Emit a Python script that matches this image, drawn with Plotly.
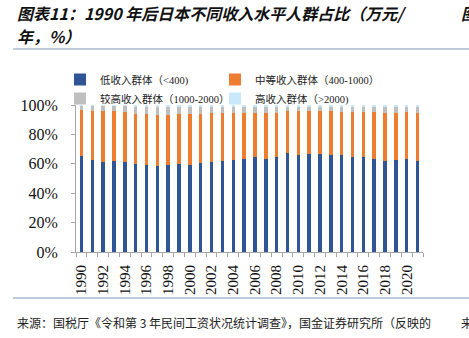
import plotly.graph_objects as go

years = list(range(1990, 2022))
low = [65.6, 62.9, 61.5, 62.2, 61.5, 60.0, 59.5, 58.4, 59.5, 60.0, 59.5, 60.6, 61.5, 62.2, 62.9, 63.3,
       64.3, 63.6, 64.9, 67.6, 66.3, 67.0, 67.0, 66.3, 65.8, 64.9, 64.9, 63.3, 62.2, 62.9, 63.3, 61.8]
mid = [31.0, 33.0, 34.4, 33.7, 34.0, 33.9, 34.4, 35.0, 33.9, 33.9, 34.4, 33.3, 33.3, 32.6, 31.9, 31.5,
       30.0, 30.7, 29.9, 28.6, 29.9, 29.2, 29.2, 29.6, 29.7, 30.6, 30.6, 32.2, 32.6, 31.9, 31.7, 33.0]
high = [0.6, 0.6, 0.6, 0.6, 0.6, 0.7, 0.7, 0.7, 0.7, 0.7, 0.7, 0.7, 0.7, 0.7, 0.7, 0.7,
        0.8, 0.8, 0.8, 0.8, 0.8, 0.8, 0.8, 0.8, 0.8, 0.8, 0.8, 0.8, 0.8, 0.8, 0.8, 0.8]
upper = [round(100 - a - b - c, 1) for a, b, c in zip(low, mid, high)]

names = ["低收入群体（<400)", "中等收入群体（400-1000）", "较高收入群体（1000-2000）", "高收入群体（>2000)"]
colors = ["#2F5597", "#ED7D31", "#BFBFBF", "#C9E8FA"]
series = [low, mid, upper, high]
legend_ids = ["legend", "legend2", "legend", "legend2"]

fig = go.Figure()
for n, c, s, lg in zip(names, colors, series, legend_ids):
    fig.add_trace(go.Bar(x=years, y=[v / 100 for v in s], name=n, legend=lg,
                         marker=dict(color=c, line=dict(width=0))))

W, H = 469, 338
L, R, T, B = 76, 46, 105, 86
pw, ph = W - L - R, H - T - B

def px_x(x):
    return (x - L) / pw

def px_y(y):
    return 1 - (y - T) / ph

serif = "Liberation Serif, Noto Sans CJK SC"
leg_common = dict(orientation="v", traceorder="normal", yanchor="top", itemwidth=30,
                  font=dict(family=serif, size=10.5, color="#222"), bgcolor="rgba(0,0,0,0)")
fig.update_layout(
    width=W, height=H, margin=dict(l=L, r=R, t=T, b=B),
    barmode="stack", bargap=0.68,
    paper_bgcolor="white", plot_bgcolor="white",
    showlegend=True,
    legend=dict(x=px_x(60), xanchor="left", y=px_y(65), **leg_common),
    legend2=dict(x=px_x(215), xanchor="left", y=px_y(65), **leg_common),
    xaxis=dict(range=[1989.5, 2021.5], tickvals=years[::2], ticktext=[str(y) for y in years[::2]],
               tickangle=-90, ticks="", showline=True, linecolor="#A6A6A6", linewidth=1,
               ticklabelstandoff=6,
               tickfont=dict(family=serif, size=15, color="#111"),
               minor=dict(tickvals=[y - 0.5 for y in years] + [years[-1] + 0.5], ticks="outside",
                          ticklen=4, tickcolor="#A6A6A6", showgrid=False),
               showgrid=False, zeroline=False),
    yaxis=dict(range=[0, 1], dtick=0.2, tickformat=".0%", showline=True, linecolor="#A6A6A6",
               linewidth=1, ticks="outside", ticklen=4, tickcolor="#A6A6A6", showgrid=False,
               ticklabelstandoff=10,
               zeroline=False, tickfont=dict(family=serif, size=16, color="#111")),
)

title_font = dict(family="Noto Sans CJK SC", size=16, color="#111")
fig.add_annotation(text="<b><i>图表11：1990 年后日本不同收入水平人群占比（万元/</i></b>",
                   xref="paper", yref="paper",
                   x=px_x(15), y=px_y(12.5), xanchor="left", yanchor="middle", showarrow=False, font=title_font)
fig.add_annotation(text="<b><i>年，%）</i></b>",
                   xref="paper", yref="paper",
                   x=px_x(15), y=px_y(36), xanchor="left", yanchor="middle", showarrow=False, font=title_font)
fig.add_annotation(text="<b><i>图</i></b>", xref="paper", yref="paper",
                   x=px_x(459), y=px_y(12.5), xanchor="left", yanchor="middle", showarrow=False, font=title_font)

src_font = dict(family="Noto Sans CJK SC", size=12, color="#222")
fig.add_annotation(text="来源：国税厅《令和第 3 年民间工资状况统计调查》，国金证券研究所（反映的", xref="paper", yref="paper",
                   x=px_x(15), y=px_y(322), xanchor="left", yanchor="middle", showarrow=False, font=src_font)
fig.add_annotation(text="来", xref="paper", yref="paper",
                   x=px_x(459), y=px_y(322), xanchor="left", yanchor="middle", showarrow=False, font=src_font)

for yy in (49, 298):
    fig.add_shape(type="line", xref="paper", yref="paper", x0=px_x(13), x1=px_x(469), y0=px_y(yy), y1=px_y(yy),
                  line=dict(color="#A9BACB", width=1.5))

fig.write_html("out.html")
